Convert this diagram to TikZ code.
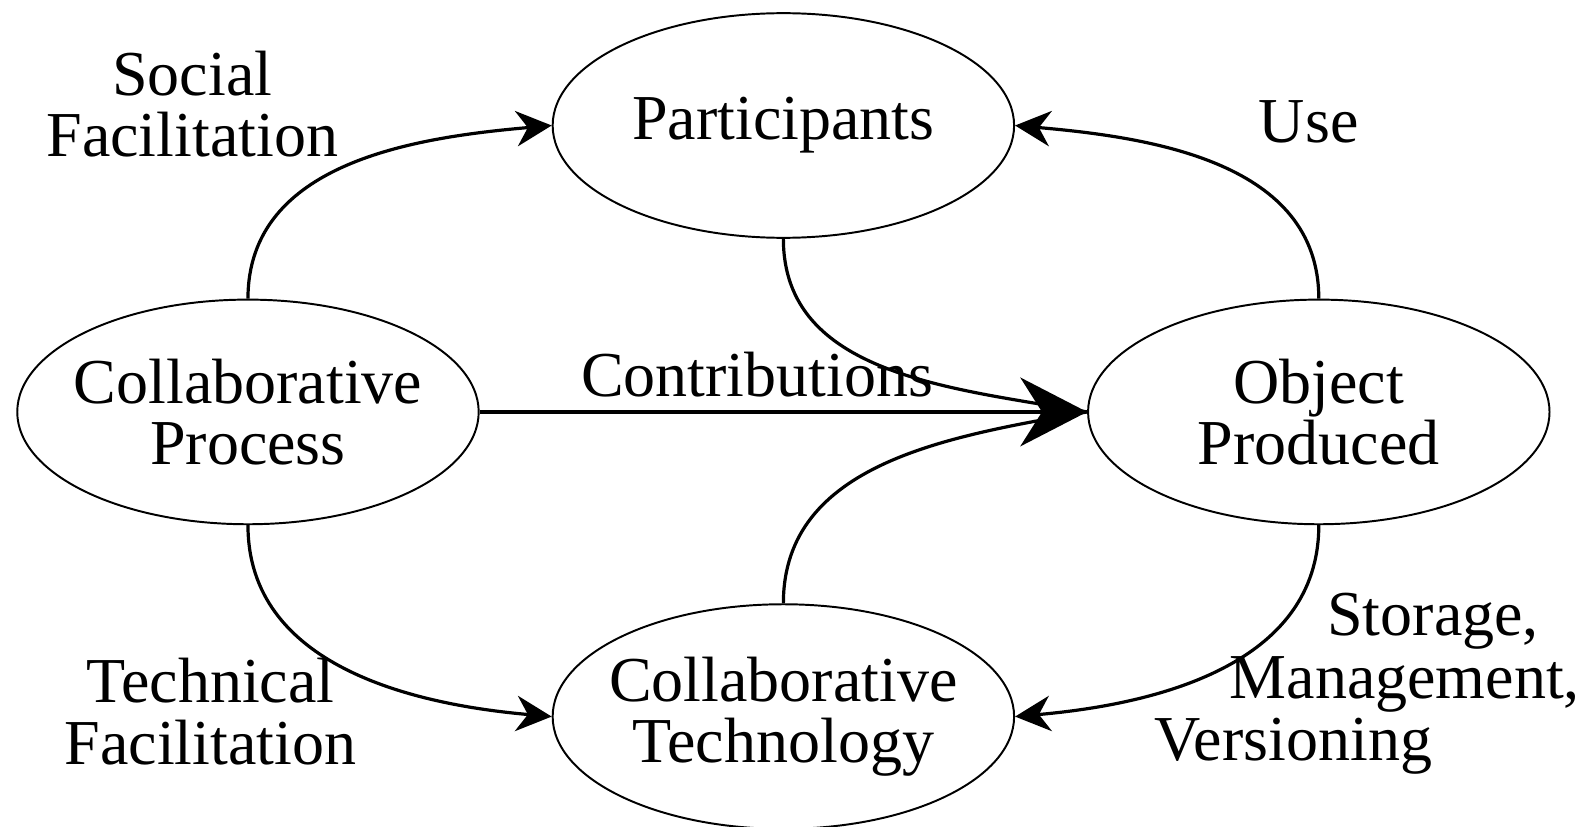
\documentclass[tikz,border=0pt]{standalone}
\usepackage{fontspec}
\setmainfont{Liberation Serif}
\usetikzlibrary{shapes.geometric}
\usetikzlibrary{arrows.meta}

\begin{document}
\begin{tikzpicture}[x=0.02cm, y=-0.02cm,
		every node/.style={font=\fontsize{36}{34.6}\selectfont, align=center},
		blob/.style={ellipse, draw, line width=1.1pt, minimum width=9.12cm, minimum height=4.44cm, inner xsep=-0.3cm, inner ysep=0pt},
		flow/.style={line width=1.8pt, -{Stealth[length=0.7cm, width=0.7cm]}},
		feed/.style={line width=1.8pt}]
			\useasboundingbox (0, 0) rectangle (1568, 817);
			\node[blob] (part) at (774, 124) {Participants};
			\node[blob] (proc) at (245, 407) {Collaborative\\Process};
			\node[blob] (obj) at (1303, 407) {Object\\Produced};
			\node[blob] (tech) at (774, 708) {Collaborative\\Technology};
			\draw[flow] (proc.north) to[out=90, in=185] (part.west);
			\draw[flow] (obj.north) to[out=90, in=-5] (part.east);
			\draw[flow] (proc.south) to[out=-90, in=175] (tech.west);
			\draw[flow] (obj.south) to[out=-90, in=5] (tech.east);
			\draw[feed] (part.south) to[out=-90, in=170] (obj.west);
			\draw[feed] (tech.north) to[out=90, in=190] (obj.west);
			\draw[line width=2pt, -{Stealth[length=1.32cm, width=1.36cm]}] (proc.east) -- (obj.west);
			\node (soc) at (190, 103) {Social\\Facilitation};
			\node (use) at (1293, 120) {Use};
			\node (contrib) at (748, 370) {Contributions};
			\node (techfac) at (208, 703) {Technical\\Facilitation};
			\node[anchor=base] (stor) at (1416, 628) {Storage,};
			\node[anchor=base] (mgmt) at (1388, 690) {Management,};
			\node[anchor=base] (vers) at (1278, 751) {Versioning};
		\end{tikzpicture}
\end{document}
